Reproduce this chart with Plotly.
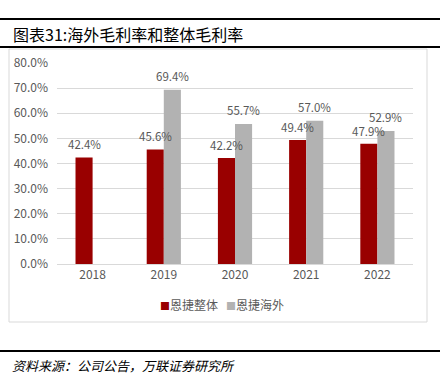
import plotly.graph_objects as go

years = ["2018", "2019", "2020", "2021", "2022"]
overall = [42.4, 45.6, 42.2, 49.4, 47.9]
overseas = [None, 69.4, 55.7, 57.0, 52.9]
series_names = ["恩捷整体", "恩捷海外"]
yticks = [0, 10, 20, 30, 40, 50, 60, 70, 80]

W, H = 443, 384
L, R, T, B = 57, 413, 63, 264  # plot area pixel bounds

def px(x):
    return (x - L) / (R - L)

def py(y):
    return (B - y) / (B - T)

FONT = "Noto Sans CJK SC"
GRAY_TXT = "#595959"
RED = "#990000"
GRAY = "#b2b2b2"
COLORS = [RED, GRAY]

fig = go.Figure()
fig.add_trace(go.Bar(x=years, y=overall, name=series_names[0], marker_color=RED,
                     marker_line_width=0, showlegend=False))
fig.add_trace(go.Bar(x=years, y=overseas, name=series_names[1], marker_color=GRAY,
                     marker_line_width=0, showlegend=False))

annotations = []
for i, v in enumerate(overall):
    annotations.append(dict(x=i, y=v, xref="x", yref="y", text=f"{v:.1f}%", showarrow=False,
                            xshift=-8.5, yshift=13, font=dict(family=FONT, size=11.5, color=GRAY_TXT)))
for i, v in enumerate(overseas):
    if v is None:
        continue
    annotations.append(dict(x=i, y=v, xref="x", yref="y", text=f"{v:.1f}%", showarrow=False,
                            xshift=8.5, yshift=14, font=dict(family=FONT, size=11.5, color=GRAY_TXT)))

# legend row
legend_text = "&nbsp;&nbsp;&nbsp;".join(
    f"<span style='color:{c};font-size:10px'>■</span>{n}" for c, n in zip(COLORS, series_names))
annotations.append(dict(x=px(222), y=py(304), xref="paper", yref="paper", xanchor="center", yanchor="middle",
                        text=legend_text, showarrow=False,
                        font=dict(family=FONT, size=12, color=GRAY_TXT)))

annotations.append(dict(x=px(11), y=py(34), xref="paper", yref="paper", xanchor="left", yanchor="middle",
                        text="图表31:海外毛利率和整体毛利率", showarrow=False,
                        font=dict(family=FONT, size=16, color="#000000")))
annotations.append(dict(x=px(10), y=py(365), xref="paper", yref="paper", xanchor="left", yanchor="middle",
                        text="<i>资料来源：公司公告，万联证券研究所</i>", showarrow=False,
                        font=dict(family=FONT, size=13, color="#000000")))

shapes = [
    dict(type="line", xref="paper", yref="paper", x0=px(0), x1=px(440), y0=py(19), y1=py(19),
         line=dict(color="#000000", width=2)),
    dict(type="line", xref="paper", yref="paper", x0=px(0), x1=px(440), y0=py(47), y1=py(47),
         line=dict(color="#000000", width=2)),
    dict(type="rect", xref="paper", yref="paper", x0=px(9), x1=px(427), y0=py(49), y1=py(322),
         line=dict(color="#d9d9d9", width=1)),
    dict(type="line", xref="paper", yref="paper", x0=px(0), x1=px(440), y0=py(351), y1=py(351),
         line=dict(color="#000000", width=2)),
]

fig.update_layout(
    width=W, height=H,
    margin=dict(l=L, r=W - R, t=T, b=H - B, pad=0, autoexpand=False),
    paper_bgcolor="white", plot_bgcolor="white",
    barmode="group", bargap=0.52, bargroupgap=0,
    showlegend=False,
    xaxis=dict(type="category", range=[-0.5, 4.5], autorange=False, showgrid=False,
               showline=True, linecolor="#d9d9d9",
               tickfont=dict(family=FONT, size=12, color=GRAY_TXT), ticks=""),
    yaxis=dict(range=[0, 80], autorange=False, tickvals=yticks, ticktext=[f"{v:.1f}%" for v in yticks],
               showgrid=True, gridcolor="#d9d9d9", gridwidth=1, zeroline=False, showline=False,
               tickfont=dict(family=FONT, size=12, color=GRAY_TXT), ticks="", ticklabelstandoff=8),
    annotations=annotations,
    shapes=shapes,
)

fig.write_html("out.html", config={"displayModeBar": False},
               post_script="document.body.style.margin='0';document.body.style.padding='0';")
